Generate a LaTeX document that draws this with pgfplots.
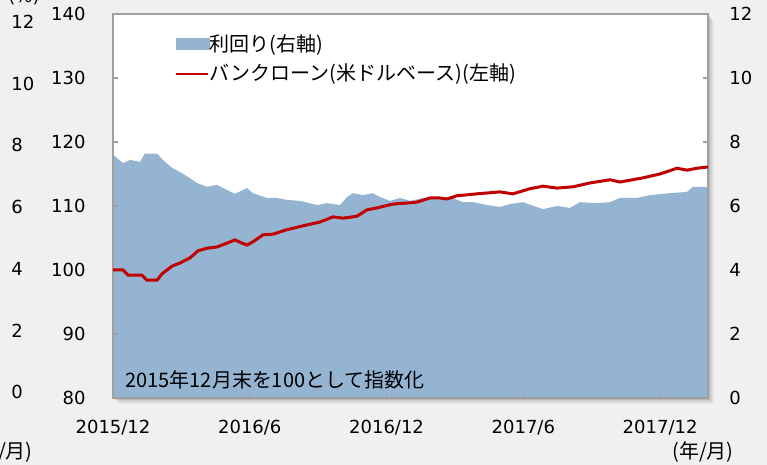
\documentclass[border=0pt]{standalone}
\usepackage{pgfplots}
\usepackage{pgfplotstable}
\pgfplotsset{compat=1.18}
\usepackage{fontspec}
\setmainfont{DejaVu Sans}
\newfontfamily\cjk{Noto Sans CJK JP}
\definecolor{areablue}{RGB}{148,180,210}
\definecolor{lnred}{RGB}{192,0,0}
\definecolor{bg}{RGB}{240,240,240}
\definecolor{framec}{RGB}{160,160,160}

\pgfplotstableread{
m v
0.00 7.60
0.09 7.55
0.44 7.34
0.75 7.44
1.18 7.38
1.40 7.64
1.93 7.64
2.19 7.44
2.59 7.19
2.94 7.06
3.38 6.87
3.68 6.72
4.12 6.60
4.56 6.66
5.00 6.50
5.35 6.38
5.88 6.56
6.14 6.40
6.75 6.25
7.19 6.25
7.63 6.19
8.20 6.16
8.95 6.03
9.39 6.09
9.96 6.03
10.26 6.28
10.53 6.40
10.96 6.34
11.40 6.40
11.71 6.28
12.15 6.16
12.59 6.25
13.03 6.16
13.60 6.25
14.34 6.25
14.78 6.28
15.35 6.12
15.79 6.12
16.40 6.03
16.97 5.97
17.41 6.06
17.98 6.12
18.86 5.90
19.47 6.00
20.04 5.94
20.48 6.12
21.23 6.09
21.80 6.12
22.24 6.25
22.98 6.25
23.55 6.34
24.43 6.40
25.18 6.44
25.44 6.60
26.10 6.60
}\yieldtable

\pgfplotstableread{
m v
0.00 100.0
0.44 100.0
0.66 99.2
1.27 99.2
1.49 98.4
1.93 98.4
2.15 99.4
2.59 100.6
2.94 101.1
3.38 101.9
3.73 103.0
4.12 103.4
4.56 103.6
5.00 104.2
5.35 104.7
5.66 104.2
5.88 103.9
6.14 104.4
6.58 105.5
7.02 105.6
7.63 106.3
8.33 106.9
9.08 107.5
9.65 108.3
10.09 108.1
10.70 108.4
11.14 109.4
11.58 109.7
12.28 110.3
13.03 110.5
13.33 110.6
13.90 111.25
14.34 111.25
14.65 111.1
15.09 111.6
15.96 111.9
16.97 112.2
17.54 111.9
18.29 112.7
18.86 113.1
19.47 112.8
20.18 113.0
20.92 113.6
21.80 114.1
22.24 113.75
23.25 114.4
23.99 115.0
24.74 115.9
25.18 115.6
25.61 115.9
26.10 116.1
}\loantable

\begin{document}
\begin{tikzpicture}[x=1pt,y=1pt]
\useasboundingbox (0,0) rectangle (383.5,232.5);
\fill[bg] (0,0) rectangle (383.5,232.5);
\foreach \o/\op in {3/0.05,2/0.08,1/0.12}
  \fill[black,opacity=\op] (56.5+\o,33.5-\o) rectangle (354+\o,225.5-\o);

% right axis: yield area
\begin{axis}[at={(56.5pt,33.5pt)}, anchor=south west, scale only axis,
  width=297.5pt, height=192pt,
  xmin=0, xmax=26.1, ymin=0, ymax=12,
  axis background/.style={fill=white},
  ytick={0,2,...,12}, ytick pos=right, xtick=\empty,
  tick align=inside, major tick length=2.5pt,
  tick style={framec, line width=0.6pt},
  axis line style={draw=none},
  /pgf/number format/assume math mode=true,
  yticklabel style={anchor=west, inner sep=0pt, xshift=10.5pt, font=\fontsize{9}{11}\selectfont},
]
\addplot[fill=areablue, draw=none] table[x=m,y=v]{\yieldtable} \closedcycle;
\end{axis}

% left axis: bank loan index
\begin{axis}[at={(56.5pt,33.5pt)}, anchor=south west, scale only axis,
  width=297.5pt, height=192pt,
  xmin=0, xmax=26.1, ymin=80, ymax=140,
  ytick={80,90,...,140}, ytick pos=left,
  xtick={0,6,12,18,24}, xticklabels={2015/12,2016/6,2016/12,2017/6,2017/12},
  xtick pos=bottom,
  tick align=inside, major tick length=2.5pt,
  tick style={framec, line width=0.6pt},
  axis line style={framec, line width=1pt},
  /pgf/number format/assume math mode=true,
  yticklabel style={anchor=east, inner sep=0pt, xshift=-13.5pt, font=\fontsize{9}{11}\selectfont},
  xticklabel style={anchor=north, inner sep=0pt, yshift=-11pt, font=\fontsize{9}{11}\selectfont},
  legend style={at={(0.1042,0.948)}, anchor=north west, draw=none, fill=none,
    inner sep=0pt, row sep=5pt, font=\cjk\fontsize{10}{12}\selectfont,
    nodes={inner sep=0pt},
    /tikz/every even column/.append style={column sep=1.5pt}},
  legend cell align=left,
]
\addlegendimage{legend image code/.code={\fill[areablue] (0pt,-2.75pt) rectangle (16.5pt,2.75pt);}}
\addlegendentry{利回り(右軸)}
\addplot[lnred, line width=1.5pt,
  legend image code/.code={\draw[lnred, line width=1pt] (0pt,0pt) -- (16pt,0pt);}]
  table[x=m,y=v]{\loantable};
\addlegendentry{バンクローン(米ドルベース)(左軸)}
\end{axis}

% outer left duplicate scale
\begin{axis}[at={(5.5pt,36.5pt)}, anchor=south west, scale only axis,
  width=1pt, height=185pt, xmin=0, xmax=1, ymin=0, ymax=12,
  ytick={0,2,...,12}, hide x axis, axis y line*=left,
  y axis line style={draw=none}, major tick length=0pt,
  /pgf/number format/assume math mode=true,
  yticklabel style={anchor=west, inner sep=0pt, font=\fontsize{9}{11}\selectfont},
]
\end{axis}

\node[anchor=west, inner sep=0pt, font=\cjk\fontsize{10}{12}\selectfont] at (62.5,42.5) {2015年12月末を100として指数化};
\node[inner sep=0pt, font=\fontsize{9}{11}\selectfont] at (12,234.25) {(\%)};
\node[inner sep=0pt, font=\cjk\fontsize{10}{12}\selectfont] at (351.5,6.5) {(年/月)};
\node[anchor=east, inner sep=0pt, font=\cjk\fontsize{10}{12}\selectfont] at (16.5,6.5) {(年/月)};
\end{tikzpicture}
\end{document}
